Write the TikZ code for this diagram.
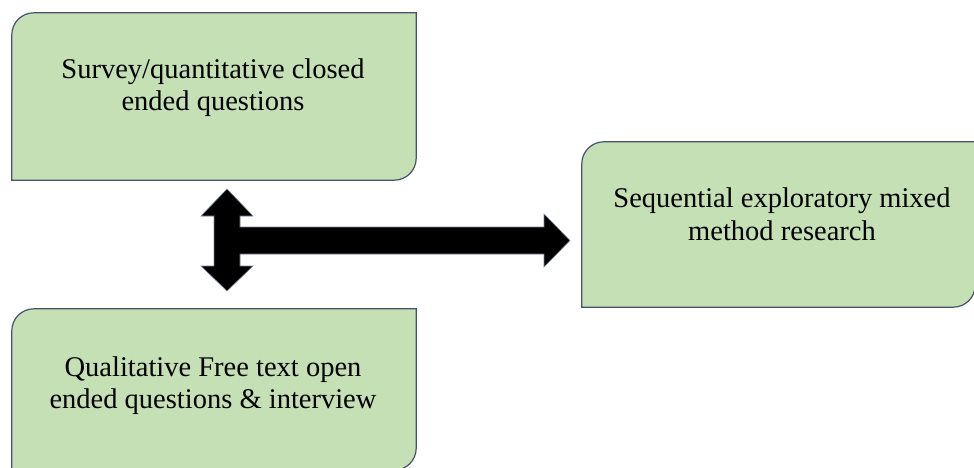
\documentclass[tikz,border=0pt]{standalone}
\usepackage{fontspec}
\setmainfont{Liberation Serif}
\definecolor{boxfill}{RGB}{197,224,180}
\definecolor{boxline}{RGB}{68,84,106}
\tikzset{
  txt/.style={align=center, font=\fontsize{28.5}{32.5}\selectfont, text=black},
  boxshape/.style={fill=boxfill, draw=boxline, line width=1.2pt},
  arrowshape/.style={fill=black, draw=boxline!70, line width=0.6pt, line join=miter}
}
\newcommand{\diagbox}[2]{% #1 = node name, #2 = radius
  \path[boxshape] (#1.south west) -- ([yshift=-#2]#1.north west)
    arc[start angle=180, end angle=90, radius=#2] -- (#1.north east)
    -- ([yshift=#2]#1.south east)
    arc[start angle=0, end angle=-90, radius=#2] -- cycle;}
\begin{document}
\begin{tikzpicture}[x=1pt,y=-1pt]
\useasboundingbox (0,0) rectangle (974,468);
\clip (0,0) rectangle (974,468);
% frames (invisible) to hold geometry
\node[minimum width=404pt, minimum height=167pt, inner sep=0pt] (survey) at (214,96.5) {};
\node[minimum width=404pt, minimum height=161pt, inner sep=0pt] (qual) at (214,389.5) {};
\node[minimum width=393pt, minimum height=165pt, inner sep=0pt] (seq) at (778.5,224.5) {};
\diagbox{survey}{22pt}
\diagbox{qual}{22pt}
\diagbox{seq}{22pt}
\node[txt] (surveytxt) at (213,87.5) {Survey/quantitative closed\\ended questions};
\node[txt] (qualtxt) at (213,385.5) {Qualitative Free text open\\ended questions \& interview};
\node[txt] (seqtxt) at (782,214.5) {Sequential exploratory mixed\\method research};
% block arrows
\coordinate (vt) at (227,189);
\coordinate (vb) at (227,291);
\coordinate (ht) at (570,240.5);
\draw[arrowshape] (vt) -- (253,216) -- (240,216) -- (240,227) -- (544,227) -- (544,214)
  -- (ht) -- (544,267) -- (544,254) -- (240,254) -- (240,266) -- (253,266)
  -- (vb) -- (201,266) -- (214,266) -- (214,216) -- (201,216) -- cycle;
\end{tikzpicture}
\end{document}
